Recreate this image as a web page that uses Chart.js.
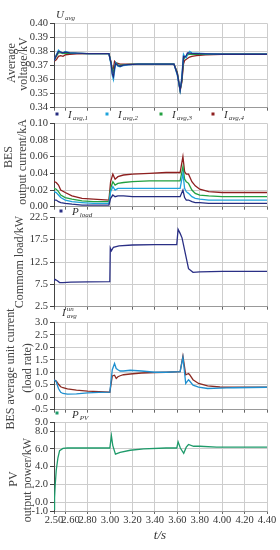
<!DOCTYPE html>
<html lang="en">
  <head>
    <meta charset="UTF-8" />
    <meta name="viewport" content="width=device-width, initial-scale=1.0" />
    <title>BES and PV response</title>
    <script src="https://cdn.jsdelivr.net/npm/chart.js"></script>
    <style>
      body {
        margin: 0;
        background: #fff;
        font-family: 'Liberation Serif', serif;
        color: #333;
      }
      #wrap {
        position: relative;
        width: 280px;
        height: 550px;
        overflow: hidden;
      }
      canvas {
        position: absolute;
        left: 0;
      }
      .ytitle {
        position: absolute;
        white-space: nowrap;
        font-size: 12px;
        color: #444;
        transform: translate(-50%, -50%) rotate(-90deg);
      }
      .leg {
        position: absolute;
        white-space: nowrap;
        font-size: 11px;
        line-height: 12px;
        font-style: italic;
        color: #333;
        transform: translateY(-50%);
        z-index: 2;
      }
      .leg sub {
        font-size: 7px;
        vertical-align: baseline;
        position: relative;
        top: 2px;
        margin-left: 1px;
      }
      .mk {
        position: absolute;
        width: 3px;
        height: 3px;
        transform: translate(-50%, -50%);
        z-index: 2;
      }
      .stack {
        display: inline-block;
        vertical-align: middle;
        font-size: 7px;
        line-height: 7px;
        margin-left: 1px;
      }
      #tlabel {
        position: absolute;
        left: 160px;
        top: 535px;
        transform: translate(-50%, -50%);
        font-size: 13px;
        font-style: italic;
      }
    </style>
  </head>
  <body>
    <div id="wrap">
      <canvas id="c1"></canvas>
      <canvas id="c2"></canvas>
      <canvas id="c3"></canvas>
      <canvas id="c4"></canvas>
      <canvas id="c5"></canvas>

      <div class="ytitle" style="left: 11px; top: 63px">Average</div>
      <div class="ytitle" style="left: 23px; top: 64px">voltage/kV</div>
      <div class="ytitle" style="left: 8px; top: 157px">BES</div>
      <div class="ytitle" style="left: 22px; top: 162px">output current/kA</div>
      <div class="ytitle" style="left: 19px; top: 262px">Commom load/kW</div>
      <div class="ytitle" style="left: 10px; top: 369px">BES average unit current</div>
      <div class="ytitle" style="left: 27px; top: 368px">(load rate)</div>
      <div class="ytitle" style="left: 13px; top: 479px">PV</div>
      <div class="ytitle" style="left: 27px; top: 480px">output power/kW</div>

      <div class="leg" style="left: 56px; top: 15px">U<sub>avg</sub></div>
      <div id="leg2"></div>
      <div class="mk" style="left: 61px; top: 211px; background: #2a2f85"></div>
      <div class="leg" style="left: 72px; top: 212px">P<sub>load</sub></div>
      <div class="leg" style="left: 62px; top: 313px">
        I<span class="stack">un<br />avg</span>
      </div>
      <div class="mk" style="left: 57px; top: 413px; background: #1e9a6a"></div>
      <div class="leg" style="left: 72px; top: 415px">P<sub>PV</sub></div>
      <div id="tlabel">t/s</div>
    </div>

    <script>
      // x axis (time, s)
      const xTicks = [2.5, 2.6, 2.8, 3.0, 3.2, 3.4, 3.6, 3.8, 4.0, 4.2, 4.4];

      // panel 1: average voltage (kV)
      const tVolt = [2.5, 2.52, 2.54, 2.56, 2.58, 2.6, 2.64, 2.7, 2.8, 2.99, 3.01, 3.02, 3.03, 3.04, 3.05, 3.07, 3.09, 3.12, 3.16, 3.25, 3.57, 3.6, 3.625, 3.64, 3.655, 3.665, 3.68, 3.69, 3.71, 3.73, 3.77, 3.85, 4.0, 4.4];
      const uAvg1 = [0.3735, 0.377, 0.38, 0.3795, 0.379, 0.3795, 0.379, 0.3788, 0.3785, 0.3785, 0.371, 0.364, 0.362, 0.368, 0.3715, 0.37, 0.3695, 0.3702, 0.3706, 0.371, 0.371, 0.364, 0.3525, 0.36, 0.3765, 0.376, 0.377, 0.379, 0.3788, 0.3786, 0.3785, 0.3783, 0.378, 0.378];
      const uAvg2 = [0.3735, 0.3775, 0.381, 0.3795, 0.379, 0.38, 0.3792, 0.3788, 0.3785, 0.3785, 0.37, 0.363, 0.36, 0.366, 0.372, 0.3695, 0.369, 0.37, 0.3705, 0.371, 0.371, 0.363, 0.352, 0.362, 0.378, 0.3765, 0.3755, 0.378, 0.38, 0.379, 0.3788, 0.3785, 0.378, 0.378];
      const uAvg3 = [0.3735, 0.3765, 0.379, 0.379, 0.3785, 0.3788, 0.3787, 0.3786, 0.3785, 0.3785, 0.3715, 0.367, 0.365, 0.369, 0.372, 0.3705, 0.37, 0.3705, 0.3708, 0.371, 0.371, 0.3645, 0.3525, 0.359, 0.374, 0.3755, 0.3765, 0.3775, 0.378, 0.378, 0.378, 0.378, 0.378, 0.378];
      const uAvg4 = [0.373, 0.374, 0.3765, 0.377, 0.3765, 0.3775, 0.378, 0.3783, 0.3785, 0.3785, 0.372, 0.3665, 0.368, 0.373, 0.372, 0.3715, 0.371, 0.371, 0.371, 0.371, 0.371, 0.365, 0.352, 0.358, 0.371, 0.3735, 0.3745, 0.375, 0.376, 0.3765, 0.377, 0.3775, 0.378, 0.378];

      // panel 2: BES output current (kA)
      const tCur = [2.5, 2.52, 2.54, 2.56, 2.6, 2.66, 2.75, 2.85, 2.99, 3.005, 3.025, 3.045, 3.07, 3.12, 3.2, 3.35, 3.5, 3.625, 3.65, 3.665, 3.68, 3.7, 3.73, 3.76, 3.8, 3.88, 4.0, 4.4];
      const iAvg1 = [0.008, 0.008, 0.006, 0.005, 0.004, 0.003, 0.002, 0.002, 0.002, 0.01, 0.014, 0.012, 0.013, 0.013, 0.012, 0.012, 0.012, 0.012, 0.02, 0.011, 0.008, 0.008, 0.006, 0.005, 0.005, 0.004, 0.004, 0.004];
      const iAvg2 = [0.018, 0.017, 0.014, 0.011, 0.008, 0.006, 0.005, 0.004, 0.004, 0.018, 0.024, 0.02, 0.022, 0.022, 0.022, 0.022, 0.022, 0.022, 0.04, 0.022, 0.018, 0.016, 0.012, 0.01, 0.009, 0.008, 0.008, 0.008];
      const iAvg3 = [0.022, 0.021, 0.018, 0.014, 0.011, 0.009, 0.007, 0.006, 0.006, 0.022, 0.03, 0.026, 0.028, 0.029, 0.03, 0.031, 0.031, 0.031, 0.048, 0.033, 0.03, 0.028, 0.02, 0.016, 0.014, 0.013, 0.012, 0.012];
      const iAvg4 = [0.03, 0.029, 0.026, 0.02, 0.017, 0.013, 0.01, 0.009, 0.008, 0.03, 0.039, 0.033, 0.036, 0.038, 0.039, 0.04, 0.041, 0.041, 0.06, 0.042, 0.039, 0.039, 0.03, 0.025, 0.021, 0.018, 0.017, 0.017];
      const curNames = ['avg,1', 'avg,2', 'avg,3', 'avg,4'];

      // panel 3: common load (kW)
      const tLoad = [2.5, 2.51, 2.53, 2.55, 2.58, 2.65, 2.8, 2.998, 3.002, 3.012, 3.03, 3.08, 3.2, 3.4, 3.595, 3.607, 3.625, 3.642, 3.7, 3.74, 3.8, 4.0, 4.4];
      const pLoad = [8.2, 8.6, 8.3, 7.9, 7.9, 8.0, 8.05, 8.1, 15.6, 15.0, 15.8, 16.1, 16.3, 16.4, 16.4, 19.8, 18.9, 17.9, 11.0, 10.2, 10.3, 10.4, 10.4];

      // panel 4: BES average unit current (load rate)
      const tRate = [2.5, 2.52, 2.54, 2.56, 2.58, 2.62, 2.7, 2.8, 2.9, 2.998, 3.02, 3.04, 3.055, 3.07, 3.09, 3.12, 3.18, 3.28, 3.4, 3.5, 3.625, 3.65, 3.675, 3.7, 3.71, 3.74, 3.79, 3.87, 3.98, 4.1, 4.4];
      const rateA = [0.7, 0.62, 0.35, 0.2, 0.15, 0.12, 0.13, 0.17, 0.19, 0.2, 1.1, 1.35, 1.15, 1.1, 1.05, 1.05, 1.08, 1.05, 1.0, 1.0, 1.02, 1.6, 0.55, 0.7, 0.65, 0.48, 0.4, 0.35, 0.36, 0.38, 0.4];
      const rateB = [0.7, 0.65, 0.52, 0.42, 0.38, 0.33, 0.28, 0.24, 0.22, 0.2, 0.85, 0.88, 0.75, 0.82, 0.86, 0.9, 0.93, 0.97, 0.99, 1.0, 1.02, 1.65, 0.9, 0.95, 0.9, 0.7, 0.55, 0.45, 0.41, 0.4, 0.4];

      // panel 5: PV output power (kW)
      const tPV = [2.5, 2.505, 2.51, 2.52, 2.535, 2.55, 2.58, 2.62, 2.8, 2.998, 3.012, 3.024, 3.048, 3.09, 3.18, 3.3, 3.5, 3.595, 3.607, 3.627, 3.657, 3.68, 3.7, 3.745, 3.8, 3.95, 4.4];
      const pPV = [-0.8, 0.5, 1.8, 3.6, 5.0, 5.8, 6.05, 6.1, 6.1, 6.1, 7.5, 6.4, 5.4, 5.6, 5.85, 6.0, 6.1, 6.1, 6.8, 6.1, 5.5, 6.2, 6.5, 6.3, 6.3, 6.2, 6.2];

      const NAVY = '#252c80';
      const CYAN = '#1ea3dc';
      const GREEN = '#22a040';
      const DRED = '#8e1f1f';

      const tickFont = { family: "'Liberation Serif', serif", size: 10.5 };
      const PAD_T = 8;

      function panel(id, cfg) {
        const c = document.getElementById(id);
        const padB = cfg.showX ? 0 : 8;
        const xH = cfg.showX ? 16 : 0;
        c.width = 280;
        c.height = cfg.bottom - cfg.top + PAD_T + padB + xH;
        c.style.top = cfg.top - PAD_T + 'px';

        new Chart(c, {
          type: 'line',
          data: {
            datasets: cfg.series.map((s) => ({
              data: cfg.t.map((x, i) => ({ x, y: s.v[i] })),
              borderColor: s.color,
              borderWidth: 1.3,
              pointRadius: 0,
              tension: 0,
              fill: false,
            })),
          },
          options: {
            responsive: false,
            animation: false,
            events: [],
            plugins: { legend: { display: false }, tooltip: { enabled: false } },
            layout: { padding: { top: PAD_T, right: 13, bottom: padB, left: 0 } },
            scales: {
              x: {
                type: 'linear',
                min: 2.5,
                max: 4.4,
                afterBuildTicks: (s) => {
                  s.ticks = xTicks.map((v) => ({ value: v }));
                },
                afterFit: (s) => {
                  s.height = xH;
                },
                ticks: {
                  display: cfg.showX,
                  autoSkip: false,
                  maxRotation: 0,
                  padding: 0,
                  font: tickFont,
                  color: '#333',
                  callback: (v) => (Math.abs(v - 2.6) < 1e-6 ? '\u2003' + v.toFixed(2) : v.toFixed(2)),
                },
                grid: { color: '#cdcdcd', drawTicks: cfg.showX, tickLength: 3, tickColor: '#666' },
                border: { color: '#999' },
              },
              y: {
                min: cfg.yTicks[0],
                max: cfg.yTicks[cfg.yTicks.length - 1],
                afterBuildTicks: (s) => {
                  s.ticks = cfg.yTicks.map((v) => ({ value: v }));
                },
                afterFit: (s) => {
                  s.width = 54;
                },
                ticks: {
                  autoSkip: false,
                  padding: 2,
                  font: tickFont,
                  color: '#333',
                  callback: (v) => v.toFixed(cfg.dec),
                },
                grid: { color: '#cdcdcd', tickLength: 4, tickColor: '#444' },
                border: { color: '#444' },
              },
            },
          },
        });
      }

      panel('c1', {
        top: 23, bottom: 108, t: tVolt, dec: 2,
        yTicks: [0.34, 0.35, 0.36, 0.37, 0.38, 0.39, 0.4],
        series: [
          { v: uAvg1, color: NAVY },
          { v: uAvg2, color: CYAN },
          { v: uAvg3, color: GREEN },
          { v: uAvg4, color: DRED },
        ],
      });
      panel('c2', {
        top: 123, bottom: 207, t: tCur, dec: 2,
        yTicks: [0, 0.02, 0.04, 0.06, 0.08, 0.1],
        series: [
          { v: iAvg1, color: NAVY },
          { v: iAvg2, color: CYAN },
          { v: iAvg3, color: GREEN },
          { v: iAvg4, color: DRED },
        ],
      });
      panel('c3', {
        top: 217, bottom: 307, t: tLoad, dec: 1,
        yTicks: [2.5, 7.5, 12.5, 17.5, 22.5],
        series: [{ v: pLoad, color: '#2a2f85' }],
      });
      panel('c4', {
        top: 322, bottom: 410, t: tRate, dec: 1,
        yTicks: [-0.5, 0, 0.5, 1, 1.5, 2, 2.5, 3],
        series: [
          { v: rateA, color: '#1e8fcf' },
          { v: rateB, color: '#8a2a22' },
        ],
      });
      panel('c5', {
        top: 422, bottom: 511, t: tPV, dec: 1, showX: true,
        yTicks: [-1, 0, 2, 4, 6, 8, 9],
        series: [{ v: pPV, color: '#1e9a6a' }],
      });

      // legend row for the four BES currents
      const legX = [57, 107, 161, 213];
      const legColors = [NAVY, CYAN, GREEN, DRED];
      const leg2 = document.getElementById('leg2');
      curNames.forEach((n, i) => {
        const m = document.createElement('div');
        m.className = 'mk';
        m.style.cssText = `left:${legX[i]}px;top:114px;background:${legColors[i]}`;
        leg2.appendChild(m);
        const l = document.createElement('div');
        l.className = 'leg';
        l.style.cssText = `left:${legX[i] + 11}px;top:115px`;
        l.innerHTML = `I<sub>${n}</sub>`;
        leg2.appendChild(l);
      });
    </script>
  </body>
</html>
